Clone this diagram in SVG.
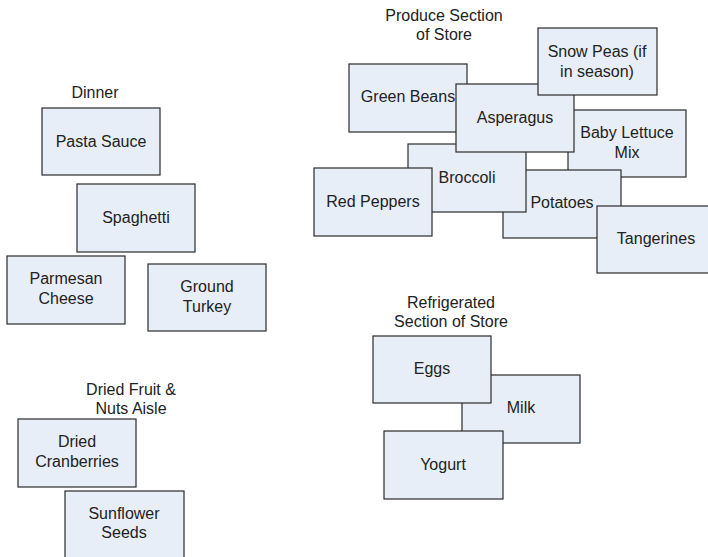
<svg xmlns="http://www.w3.org/2000/svg" width="708" height="557" viewBox="0 0 708 557">
<style>
.b{fill:#E8EEF7;stroke:#2a2a2a;stroke-width:1.2}
text{font-family:"Liberation Sans",Arial,sans-serif;font-size:16px;fill:#222;text-anchor:middle}
</style>
<rect width="708" height="557" fill="#fff"/>
<g id="labels">
<text x="95" y="98">Dinner</text>
<text x="444" y="21">Produce Section</text>
<text x="444" y="40">of Store</text>
<text x="131" y="395">Dried Fruit &amp;</text>
<text x="131" y="414">Nuts Aisle</text>
<text x="451" y="308">Refrigerated</text>
<text x="451" y="327">Section of Store</text>
</g>
<g id="connectors"></g>
<g id="pasta-sauce"><rect class="b" x="42" y="108" width="118" height="67"/><text x="101" y="147">Pasta Sauce</text></g>
<g id="spaghetti"><rect class="b" x="77" y="184" width="118" height="68"/><text x="136" y="223">Spaghetti</text></g>
<g id="parmesan"><rect class="b" x="7" y="256" width="118" height="68"/><text x="66" y="284">Parmesan</text><text x="66" y="304">Cheese</text></g>
<g id="ground-turkey"><rect class="b" x="148" y="264" width="118" height="67"/><text x="207" y="292">Ground</text><text x="207" y="312">Turkey</text></g>
<g id="green-beans"><rect class="b" x="349" y="64" width="118" height="68"/><text x="408" y="102">Green Beans</text></g>
<g id="baby-lettuce"><rect class="b" x="568" y="110" width="118" height="67"/><text x="627" y="138">Baby Lettuce</text><text x="627" y="158">Mix</text></g>
<g id="potatoes"><rect class="b" x="503" y="170" width="118" height="68"/><text x="562" y="208">Potatoes</text></g>
<g id="tangerines"><rect class="b" x="597" y="206" width="118" height="67"/><text x="656" y="244">Tangerines</text></g>
<g id="broccoli"><rect class="b" x="408" y="144" width="118" height="68"/><text x="467" y="183">Broccoli</text></g>
<g id="red-peppers"><rect class="b" x="314" y="168" width="118" height="68"/><text x="373" y="207">Red Peppers</text></g>
<g id="asperagus"><rect class="b" x="456" y="84" width="118" height="68"/><text x="515" y="123">Asperagus</text></g>
<g id="snow-peas"><rect class="b" x="538" y="28" width="119" height="67"/><text x="597" y="57">Snow Peas (if</text><text x="597" y="77">in season)</text></g>
<g id="milk"><rect class="b" x="462" y="375" width="118" height="68"/><text x="521" y="413">Milk</text></g>
<g id="eggs"><rect class="b" x="373" y="336" width="118" height="67"/><text x="432" y="374">Eggs</text></g>
<g id="yogurt"><rect class="b" x="384" y="431" width="119" height="68"/><text x="443" y="470">Yogurt</text></g>
<g id="dried-cranberries"><rect class="b" x="18" y="419" width="118" height="68"/><text x="77" y="447">Dried</text><text x="77" y="467">Cranberries</text></g>
<g id="sunflower-seeds"><rect class="b" x="65" y="491" width="119" height="70"/><text x="124" y="519">Sunflower</text><text x="124" y="538">Seeds</text></g>
</svg>
